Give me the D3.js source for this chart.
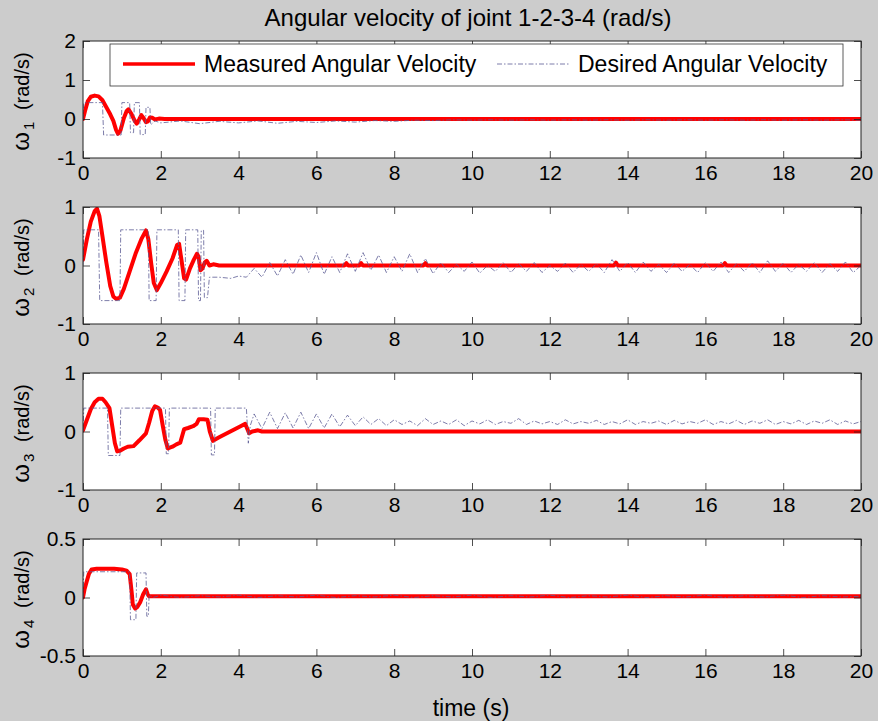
<!DOCTYPE html>
<html><head><meta charset="utf-8">
<script src="https://cdn.jsdelivr.net/npm/d3@7"></script>
<style>
body{margin:0;background:#cccccc;}
svg{display:block;font-family:"Liberation Sans",Arial,sans-serif;}
</style></head><body>
<svg id="chart" width="878" height="721"></svg>
<script>
// ---- data -------------------------------------------------------------
const titleText = "Angular velocity of joint 1-2-3-4 (rad/s)";
const xLabelText = "time (s)";
const legendLabels = ["Measured Angular Velocity", "Desired Angular Velocity"];
const jointNames = ["1", "2", "3", "4"];
const timeTicks = [0, 2, 4, 6, 8, 10, 12, 14, 16, 18, 20];
const yDomains = [[-1, 2], [-1, 1], [-1, 1], [-0.5, 0.5]];
const yTickValues = [[-1, 0, 1, 2], [-1, 0, 1], [-1, 0, 1], [-0.5, 0, 0.5]];

// measured angular velocity, [time, value]
const measured1 = [[0,0],[0.05,0.2],[0.12,0.45],[0.2,0.57],[0.3,0.6],[0.4,0.58],[0.5,0.48],[0.6,0.3],[0.7,0.12],[0.78,-0.05],[0.85,-0.28],[0.9,-0.38],[0.96,-0.3],[1.05,0.02],[1.12,0.2],[1.17,0.25],[1.25,0.12],[1.33,-0.05],[1.38,-0.12],[1.45,0.0],[1.5,0.1],[1.56,0.02],[1.62,-0.08],[1.67,-0.06],[1.72,0.04],[1.78,0.03],[1.85,-0.01],[1.95,0.01],[2.1,0],[20,0]];
const measured2 = [[0,0.1],[0.1,0.45],[0.2,0.75],[0.3,0.93],[0.36,0.97],[0.42,0.85],[0.5,0.5],[0.6,0.05],[0.7,-0.35],[0.78,-0.53],[0.85,-0.57],[0.95,-0.55],[1.05,-0.4],[1.2,-0.1],[1.35,0.2],[1.5,0.45],[1.62,0.6],[1.68,0.45],[1.75,0.05],[1.82,-0.3],[1.9,-0.42],[2.0,-0.3],[2.15,-0.1],[2.3,0.12],[2.42,0.35],[2.47,0.37],[2.53,0.1],[2.6,-0.22],[2.65,-0.24],[2.75,-0.05],[2.85,0.1],[2.93,0.2],[2.97,0.15],[3.02,-0.08],[3.07,-0.05],[3.13,0.05],[3.18,0.08],[3.25,0.0],[3.35,0.02],[3.5,0],[6.72,0],[6.77,0.04],[6.82,0],[7.1,0],[7.15,0.04],[7.2,0],[8.75,0],[8.8,0.04],[8.85,0],[13.65,0],[13.7,0.05],[13.75,0],[16.45,0],[16.5,0.04],[16.55,0],[20,0]];
const measured3 = [[0,0.02],[0.1,0.2],[0.2,0.38],[0.3,0.5],[0.4,0.56],[0.5,0.56],[0.58,0.5],[0.68,0.4],[0.75,0.1],[0.82,-0.2],[0.88,-0.34],[0.95,-0.33],[1.05,-0.29],[1.15,-0.26],[1.3,-0.25],[1.45,-0.15],[1.62,-0.03],[1.7,0.15],[1.78,0.35],[1.85,0.43],[1.92,0.41],[1.98,0.37],[2.05,0.1],[2.12,-0.15],[2.18,-0.29],[2.3,-0.26],[2.4,-0.22],[2.5,-0.19],[2.56,-0.05],[2.6,0.04],[2.7,0.06],[2.83,0.09],[2.92,0.13],[2.98,0.21],[3.1,0.21],[3.2,0.2],[3.26,0.0],[3.34,-0.16],[3.5,-0.1],[3.7,-0.03],[3.9,0.04],[4.05,0.09],[4.17,0.13],[4.22,0.05],[4.27,-0.03],[4.35,0.0],[4.5,0.02],[4.6,0],[20,0]];
const measured4 = [[0,0],[0.04,0.07],[0.09,0.13],[0.15,0.2],[0.22,0.24],[0.35,0.245],[0.6,0.245],[0.8,0.245],[1.0,0.24],[1.12,0.23],[1.2,0.2],[1.25,0.05],[1.28,-0.06],[1.34,-0.095],[1.4,-0.08],[1.47,-0.04],[1.55,0.03],[1.62,0.07],[1.66,0.03],[1.7,0.01],[1.8,0.01],[20,0.01]];

// desired angular velocity: switching part as [time, value] ...
const desired1Head = [[0,0],[0.02,0.42],[0.5,0.42],[0.53,-0.41],[0.98,-0.41],[1.0,0.42],[1.2,0.42],[1.22,-0.35],[1.3,-0.35],[1.32,0.42],[1.45,0.42],[1.47,-0.4],[1.6,-0.4],[1.62,0.3],[1.72,0.3],[1.74,-0.15],[1.85,-0.05]];
const desired2Head = [[0,0],[0.02,0.61],[0.4,0.61],[0.43,-0.6],[0.95,-0.6],[0.97,0.61],[1.68,0.61],[1.7,-0.6],[1.88,-0.6],[1.9,0.61],[2.45,0.61],[2.47,-0.6],[2.62,-0.6],[2.64,0.61],[2.95,0.61],[2.97,-0.6],[3.02,-0.6],[3.04,0.6],[3.1,0.6],[3.12,-0.55],[3.2,-0.55],[3.25,-0.2],[3.5,-0.2],[3.8,-0.22],[4.0,-0.18]];
const desired3Head = [[0,0],[0.02,0.4],[0.63,0.4],[0.65,-0.41],[0.95,-0.41],[0.97,0.4],[2.12,0.4],[2.14,-0.38],[2.2,-0.38],[2.22,0.4],[3.28,0.4],[3.3,-0.4],[3.38,-0.4],[3.4,0.4],[4.2,0.4],[4.25,-0.2],[4.3,0.1]];
const desired4Head = [[0,0],[0.02,0.22],[1.2,0.22],[1.22,-0.19],[1.36,-0.19],[1.38,0.21],[1.62,0.21],[1.64,-0.16],[1.68,-0.16],[1.7,0.02],[1.8,0.0]];

// ... followed by the residual chatter, sampled on a regular time grid
const desired1Tail = {start: 2.0, step: 0.5, values: [-0.1,-0.05,-0.12,-0.06,-0.1,-0.05,-0.11,-0.06,-0.09,-0.05,-0.08,-0.04,-0.06,-0.03,-0.04,-0.02,-0.03,-0.02,-0.03,-0.02,-0.03,-0.02,-0.03,-0.02,-0.03,-0.02,-0.03,-0.02,-0.03,-0.02,-0.03,-0.02,-0.03,-0.02,-0.03,-0.02,-0.03]};
const desired2Tail = {start: 4.2, step: 0.2, values: [-0.2,-0.05,-0.2,0.05,-0.18,0.1,-0.15,0.18,-0.12,0.22,-0.15,0.15,-0.12,0.2,-0.1,0.22,-0.08,0.18,-0.12,0.15,-0.1,0.2,-0.12,0.12,-0.14,0.05,-0.12,0.02,-0.1,0.06,-0.13,0.0,-0.1,0.05,-0.12,0.03,-0.1,0.05,-0.12,0.0,-0.1,0.04,-0.12,0.02,-0.1,0.03,-0.12,0.1,-0.1,0.05,-0.12,0.06,-0.1,0.02,-0.12,0.04,-0.1,0.02,-0.12,0.05,-0.1,0.06,-0.12,0.03,-0.1,0.05,-0.12,0.08,-0.1,0.04,-0.12,0.02,-0.1,0.05,-0.12,0.03,-0.1,0.06,-0.12,0.0]};
const desired3Tail = {start: 4.4, step: 0.2, values: [0.3,0.05,0.33,0.05,0.32,0.06,0.33,0.05,0.3,0.06,0.3,0.08,0.28,0.1,0.25,0.12,0.22,0.1,0.2,0.12,0.18,0.1,0.22,0.12,0.18,0.12,0.2,0.1,0.18,0.13,0.2,0.12,0.17,0.14,0.22,0.12,0.18,0.13,0.17,0.12,0.2,0.13,0.17,0.14,0.19,0.12,0.17,0.13,0.2,0.12,0.17,0.14,0.18,0.12,0.19,0.13,0.17,0.14,0.2,0.12,0.17,0.13,0.19,0.12,0.18,0.14,0.2,0.12,0.17,0.13,0.19,0.12,0.18,0.14,0.2,0.12,0.18,0.13,0.17]};
const desired4Tail = {start: 2.0, step: 0.5, values: [0.02,0.0,0.015,0.005,0.02,0.0,0.015,0.005,0.02,0.0,0.015,0.005,0.02,0.0,0.015,0.005,0.02,0.0,0.015,0.005,0.02,0.0,0.015,0.005,0.02,0.0,0.015,0.005,0.02,0.0,0.015,0.005,0.02,0.0,0.015,0.005,0.01]};

const measuredSeries = [measured1, measured2, measured3, measured4];
const desiredHeads = [desired1Head, desired2Head, desired3Head, desired4Head];
const desiredTails = [desired1Tail, desired2Tail, desired3Tail, desired4Tail];

// ---- layout -----------------------------------------------------------
const svg = d3.select("#chart");
const plotLeft = 83, plotRight = 861;
const panelTops = [41, 207, 373, 539];
const panelHeight = 117;
const tickLen = 7;
const measuredColor = "#ff0000";
const desiredColor = "#5c5c94";
const desiredDash = "5,2,1.5,2";

const x = d3.scaleLinear().domain([0, 20]).range([plotLeft, plotRight]);

svg.append("text")
  .attr("x", 468).attr("y", 26)
  .attr("text-anchor", "middle")
  .attr("font-size", 24)
  .attr("fill", "#000")
  .text(titleText);

panelTops.forEach((top, i) => {
  const bottom = top + panelHeight;
  const y = d3.scaleLinear().domain(yDomains[i]).range([bottom, top]);
  const g = svg.append("g");

  g.append("rect")
    .attr("x", plotLeft).attr("y", top)
    .attr("width", plotRight - plotLeft).attr("height", panelHeight)
    .attr("fill", "#fff");

  const clipId = "clip" + i;
  svg.append("clipPath").attr("id", clipId)
    .append("rect")
    .attr("x", plotLeft).attr("y", top)
    .attr("width", plotRight - plotLeft).attr("height", panelHeight);

  const line = d3.line().x(d => x(d[0])).y(d => y(d[1]));
  const tail = desiredTails[i];
  const desired = desiredHeads[i].concat(tail.values.map((v, k) => [tail.start + k * tail.step, v]));

  const lines = g.append("g").attr("clip-path", `url(#${clipId})`);
  lines.append("path")
    .datum(measuredSeries[i])
    .attr("d", line)
    .attr("fill", "none")
    .attr("stroke", measuredColor)
    .attr("stroke-width", 4)
    .attr("stroke-linejoin", "round")
    .attr("stroke-linecap", "round");
  lines.append("path")
    .datum(desired)
    .attr("d", line)
    .attr("fill", "none")
    .attr("stroke", desiredColor)
    .attr("stroke-width", 0.8)
    .attr("stroke-dasharray", desiredDash);

  // axes with inward ticks on all four sides
  const fmt = d => String(d);
  const xb = g.append("g").attr("transform", `translate(0,${bottom})`)
    .call(d3.axisBottom(x).tickValues(timeTicks).tickSizeInner(-tickLen).tickSizeOuter(0).tickPadding(7).tickFormat(fmt));
  const xt = g.append("g").attr("transform", `translate(0,${top})`)
    .call(d3.axisTop(x).tickValues(timeTicks).tickSizeInner(-tickLen).tickSizeOuter(0).tickFormat(""));
  const yl = g.append("g").attr("transform", `translate(${plotLeft},0)`)
    .call(d3.axisLeft(y).tickValues(yTickValues[i]).tickSizeInner(-tickLen).tickSizeOuter(0).tickPadding(7).tickFormat(fmt));
  const yr = g.append("g").attr("transform", `translate(${plotRight},0)`)
    .call(d3.axisRight(y).tickValues(yTickValues[i]).tickSizeInner(-tickLen).tickSizeOuter(0).tickFormat(""));
  [xb, xt, yl, yr].forEach(a => {
    a.select(".domain").remove();
    a.selectAll("line").attr("stroke", "#222").attr("stroke-width", 0.8);
    a.selectAll("text").attr("font-size", 21).attr("fill", "#000")
      .attr("font-family", '"Liberation Sans",Arial,sans-serif');
  });

  g.append("rect")
    .attr("x", plotLeft).attr("y", top)
    .attr("width", plotRight - plotLeft).attr("height", panelHeight)
    .attr("fill", "none").attr("stroke", "#222").attr("stroke-width", 1);

  // y-axis label: omega with joint subscript
  const lab = svg.append("text")
    .attr("transform", `translate(29,${top + panelHeight / 2 + 2}) rotate(-90)`)
    .attr("text-anchor", "middle")
    .attr("font-size", 20)
    .attr("fill", "#000");
  lab.append("tspan").attr("font-size", 24).text("\u03c9");
  lab.append("tspan").attr("dx", 2).attr("dy", 5).attr("font-size", 15).text(jointNames[i]);
  lab.append("tspan").attr("dx", 6).attr("dy", -5).text(" (rad/s)");
});

// legend in the first panel
const legend = svg.append("g");
legend.append("rect")
  .attr("x", 110).attr("y", 44).attr("width", 733).attr("height", 42)
  .attr("fill", "#fff").attr("stroke", "#333").attr("stroke-width", 0.8);
legend.append("line")
  .attr("x1", 123).attr("x2", 195).attr("y1", 64).attr("y2", 64)
  .attr("stroke", measuredColor).attr("stroke-width", 3.6);
legend.append("text")
  .attr("x", 204).attr("y", 72).attr("font-size", 23).attr("fill", "#000")
  .text(legendLabels[0]);
legend.append("line")
  .attr("x1", 497).attr("x2", 570).attr("y1", 64).attr("y2", 64)
  .attr("stroke", desiredColor).attr("stroke-width", 0.8)
  .attr("stroke-dasharray", desiredDash);
legend.append("text")
  .attr("x", 578).attr("y", 72).attr("font-size", 23).attr("fill", "#000")
  .text(legendLabels[1]);

svg.append("text")
  .attr("x", 471).attr("y", 716)
  .attr("text-anchor", "middle")
  .attr("font-size", 23)
  .attr("fill", "#000")
  .text(xLabelText);
</script>
</body></html>
